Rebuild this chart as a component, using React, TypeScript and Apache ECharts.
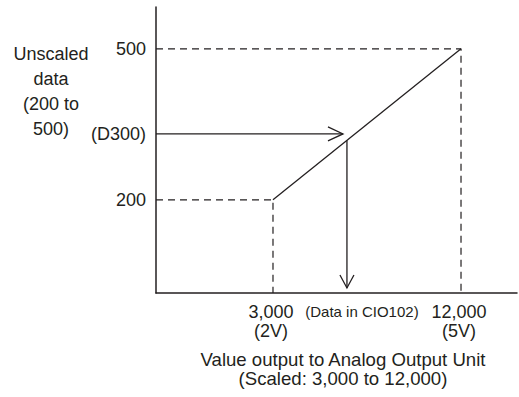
import React, { useEffect, useRef } from "react";
import * as echarts from "echarts";

// ---- data ----
const lineX = [3000, 12000];
const lineY = [200, 500];
const xRange = [-2600, 14680];
const yRange = [15, 583];
const yTickValues = [200, 331, 500];
const yTickLabels = ["200", "(D300)", "500"];
const xTickValues = [3000, 12000];
const xTickLabels = ["3,000\n(2V)", "12,000\n(5V)"];
const outputLabel = "(Data in CIO102)";
const inputValue = 331; // D300 level
const outputValue = 6540; // CIO102 value
const arrowStopX = 6350; // where the horizontal arrow ends
const arrowTipY = 25; // where the vertical arrow ends
const yAxisTitle = ["Unscaled", "data", "(200 to", "500)"];
const xAxisTitle = ["Value output to Analog Output Unit", "(Scaled: 3,000 to 12,000)"];

const INK = "#231f20";
const FONT = "'Liberation Sans', Arial, Helvetica, sans-serif";

function lineAt(x: number): number {
  return lineY[0] + ((x - lineX[0]) / (lineX[1] - lineX[0])) * (lineY[1] - lineY[0]);
}

export default function App() {
  const ref = useRef<HTMLDivElement>(null);
  useEffect(() => {
    if (!ref.current) return;
    const chart = echarts.init(ref.current, undefined, { renderer: "svg" });
    const solid = { color: INK, width: 1.3, type: "solid" as const };
    const dashed = { color: INK, width: 1.2, type: [7, 5] as any };
    const mk = (data: number[][], lineStyle: any) => ({
      type: "line",
      data,
      symbol: "none",
      silent: true,
      clip: false,
      lineStyle,
      z: 3,
    });
    chart.setOption({
      animation: false,
      backgroundColor: "#ffffff",
      textStyle: { fontFamily: FONT, color: INK },
      grid: { left: 156, top: 7, right: 2, bottom: 104, containLabel: false },
      xAxis: {
        type: "value",
        min: xRange[0],
        max: xRange[1],
        splitLine: { show: false },
        axisTick: { show: false },
        axisLine: { show: true, onZero: false, lineStyle: { color: INK, width: 1.5 } },
        axisLabel: {
          customValues: xTickValues,
          hideOverlap: false,
          showMinLabel: true,
          showMaxLabel: true,
          margin: 9,
          fontSize: 18,
          lineHeight: 19,
          color: INK,
          fontFamily: FONT,
          padding: [0, 4, 0, 0],
          formatter: (v: number) => {
            const i = xTickValues.indexOf(v);
            return i >= 0 ? xTickLabels[i] : "";
          },
        },
        name: xAxisTitle.join("\n"),
        nameLocation: "middle",
        nameGap: 57,
        nameTextStyle: { fontSize: 18.6, lineHeight: 19, color: INK, fontFamily: FONT, padding: [0, 0, 0, 13] },
      },
      yAxis: {
        type: "value",
        min: yRange[0],
        max: yRange[1],
        splitLine: { show: false },
        axisTick: { show: false },
        axisLine: { show: true, onZero: false, lineStyle: { color: INK, width: 1.5 } },
        axisLabel: {
          customValues: yTickValues,
          hideOverlap: false,
          margin: 10,
          fontSize: 18,
          color: INK,
          fontFamily: FONT,
          formatter: (v: number) => {
            const i = yTickValues.indexOf(v);
            return i >= 0 ? yTickLabels[i] : "";
          },
        },
      },
      graphic: [
        {
          type: "text",
          x: 51,
          y: 91,
          style: {
            text: yAxisTitle.join("\n"),
            fontSize: 18,
            lineHeight: 25,
            fontFamily: FONT,
            fill: INK,
            align: "center",
            verticalAlign: "middle",
          },
        },
      ],
      series: [
        mk([[lineX[0], lineY[0]], [lineX[1], lineY[1]]], solid),
        mk([[xRange[0], lineY[1]], [lineX[1], lineY[1]], [lineX[1], yRange[0]]], dashed),
        mk([[xRange[0], lineY[0]], [lineX[0], lineY[0]], [lineX[0], yRange[0]]], dashed),
        mk([[xRange[0], inputValue], [arrowStopX, inputValue]], solid),
        mk([[outputValue, lineAt(outputValue)], [outputValue, arrowTipY]], solid),
        {
          type: "custom",
          silent: true,
          clip: false,
          z: 4,
          data: [
            [arrowStopX, inputValue, 0],
            [outputValue, arrowTipY, 1],
          ],
          renderItem: (_params: any, api: any) => {
            const p = api.coord([api.value(0), api.value(1)]);
            const dir = api.value(2);
            if (dir === 0) {
              return {
                type: "polyline",
                shape: { points: [[p[0] - 15, p[1] - 7], [p[0], p[1]], [p[0] - 15, p[1] + 7]] },
                style: { stroke: INK, lineWidth: 1.3, fill: "none" },
              };
            }
            const base = api.coord([api.value(0), yRange[0]]);
            return {
              type: "group",
              children: [
                {
                  type: "polyline",
                  shape: { points: [[p[0] - 7, p[1] - 13], [p[0], p[1]], [p[0] + 7, p[1] - 13]] },
                  style: { stroke: INK, lineWidth: 1.3, fill: "none" },
                },
                {
                  type: "text",
                  x: p[0] + 15,
                  y: base[1] + 18,
                  style: {
                    text: outputLabel,
                    fontSize: 15,
                    fontFamily: FONT,
                    fill: INK,
                    align: "center",
                    verticalAlign: "middle",
                  },
                },
              ],
            };
          },
        },
      ],
    });
    return () => chart.dispose();
  }, []);
  return (
    <div
      ref={ref}
      style={{ position: "absolute", left: 0, top: 0, width: 519, height: 397, background: "#fff" }}
    />
  );
}
